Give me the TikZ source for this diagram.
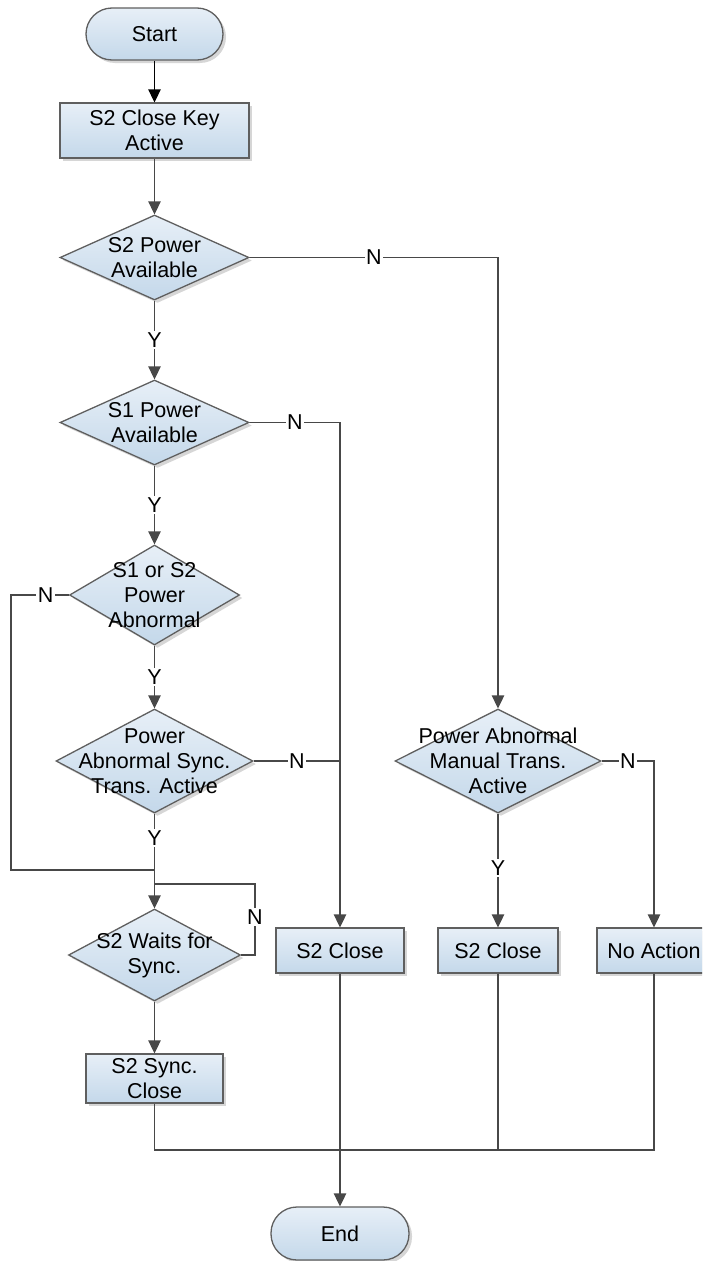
\documentclass[tikz,border=0pt]{standalone}
\usepackage{fontspec}
\setmainfont{Liberation Sans}
\usetikzlibrary{shapes.geometric,arrows.meta,shadows}
\definecolor{boxtop}{RGB}{231,239,247}
\definecolor{boxbot}{RGB}{196,216,234}
\definecolor{edgecol}{RGB}{95,95,95}
\definecolor{wirecol}{RGB}{72,72,72}
\definecolor{shd}{RGB}{214,214,214}
\begin{document}
\begin{tikzpicture}[x=1pt,y=-1pt,
  font=\fontsize{21.5}{25}\selectfont,
  shp/.style={draw=edgecol, line width=1.3pt, top color=boxtop, bottom color=boxbot,
    drop shadow={shadow xshift=3pt, shadow yshift=-3pt, fill=shd, opacity=1}},
  proc/.style={shp, rectangle, inner sep=0pt, align=center},
  term/.style={shp, rectangle, rounded corners=26pt, inner sep=0pt},
  dia/.style={shp, diamond, inner sep=0pt},
  txt/.style={align=center, inner sep=0pt, text=black},
  wire/.style={draw=wirecol, line width=1.3pt},
  arr/.style={wire, -{Triangle[length=13pt,width=12.5pt]}},
  lab/.style={fill=white, inner sep=1.5pt, text=black},
]
\clip (0,0) rectangle (702,1261);
\fill[white] (0,0) rectangle (702,1261);

% nodes
\node[term, minimum width=137pt, minimum height=52pt] (start) at (154.5,34) {Start};
\node[proc, minimum width=189pt, minimum height=55pt] (key) at (154.5,130.5) {S2 Close Key\\Active};
\node[dia, minimum width=189pt, minimum height=85pt,
  label={[txt]center:S2 Power\\Available}] (d1) at (154.5,257.5) {};
\node[dia, minimum width=189pt, minimum height=85pt,
  label={[txt]center:S1 Power\\Available}] (d2) at (154.5,422.5) {};
\node[dia, minimum width=170pt, minimum height=100pt,
  label={[txt]center:S1 or S2\\Power\\Abnormal}] (d3) at (154.5,595) {};
\node[dia, minimum width=197pt, minimum height=104pt,
  label={[txt]center:Power\\Abnormal Sync.\\Trans. Active}] (d4) at (154.5,761) {};
\node[dia, minimum width=172pt, minimum height=92pt,
  label={[txt]center:S2 Waits for\\Sync.}] (d5) at (154.5,955) {};
\node[proc, minimum width=137pt, minimum height=49pt] (syn) at (154.5,1078.5) {S2 Sync.\\Close};
\node[proc, minimum width=128pt, minimum height=45pt] (sc) at (340,950.5) {S2 Close};
\node[dia, minimum width=206pt, minimum height=104pt,
  label={[txt]center:Power Abnormal\\Manual Trans.\\Active}] (md) at (498,761) {};
\node[proc, minimum width=120pt, minimum height=45pt] (sc2) at (498,950.5) {S2 Close};
\node[proc, minimum width=114pt, minimum height=45pt] (na) at (654,950.5) {No Action};
\node[term, minimum width=138pt, minimum height=53pt] (end) at (340,1233.5) {End};

\coordinate (jn) at (154.5,870);
\coordinate (lp) at (255,884);
\coordinate (bot) at (0,1150);

% connectors
\draw[arr, draw=black] (start) -- (key);
\draw[arr] (key) -- (d1);
\draw[arr] (d1.east) -- node[lab]{N} (d1.east -| md.north) -- (md.north);
\draw[arr] (d1) -- node[lab]{Y} (d2);
\draw[arr] (d2.east) -- node[lab]{N} (d2.east -| sc.north) -- (sc.north);
\draw[arr] (d2) -- node[lab]{Y} (d3);
\draw[wire] (d3.west) -- node[lab,pos=0.4]{N} ++(-58,0) |- (jn);
\draw[arr] (d3) -- node[lab]{Y} (d4);
\draw[wire] (d4.east) -- node[lab]{N} (d4.east -| sc.north);
\draw[arr] (d4) -- node[lab,pos=0.26]{Y} (d5);
\draw[wire] (d5.east) -- (d5.east -| lp) -- node[lab,pos=0.54]{N} (lp) -- (lp -| d5.north);
\draw[arr] (d5) -- (syn);
\draw[wire] (syn.south) |- (bot -| na.south) -- (na.south);
\draw[wire] (sc2.south) -- (sc2.south |- bot);
\draw[arr] (sc) -- (end);
\draw[arr] (md.south) -- node[lab,pos=0.48]{Y} (sc2.north);
\draw[arr] (md.east) -- node[lab]{N} (md.east -| na.north) -- (na.north);
\end{tikzpicture}
\end{document}
